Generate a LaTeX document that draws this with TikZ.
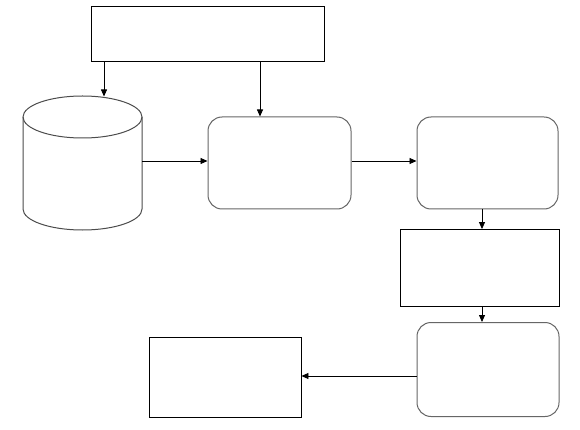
\documentclass[tikz,border=0pt]{standalone}
\usetikzlibrary{arrows.meta,calc}
\begin{document}
\begin{tikzpicture}[x=1pt,y=-1pt,
  box/.style={draw=black,line width=0.9pt,fill=white,inner sep=0pt},
  rbox/.style={draw=black!60,line width=1pt,rounded corners=14pt,fill=white,inner sep=0pt},
  conn/.style={draw=black,line width=0.8pt,-{Triangle[length=7pt,width=6pt]}}]
\useasboundingbox (0,0) rectangle (580,430);
\fill[white] (0,0) rectangle (580,430);
% nodes
\node[box,minimum width=233pt,minimum height=54.5pt] (top) at (208,34) {};
\node[rbox,minimum width=143pt,minimum height=92pt] (r1) at (279.5,163) {};
\node[rbox,minimum width=141pt,minimum height=92pt] (r2) at (487.5,163) {};
\node[box,minimum width=159pt,minimum height=77pt] (r3) at (479.5,268) {};
\node[rbox,minimum width=142pt,minimum height=94pt] (r4) at (488,369.5) {};
\node[box,minimum width=152pt,minimum height=80pt] (r5) at (225,377) {};
% cylinder
\draw[draw=black!70,line width=1pt,fill=white]
  (23,117) -- (23,209) arc[start angle=180,end angle=0,x radius=59.5,y radius=21]
  -- (142,117) arc[start angle=0,end angle=-180,x radius=59.5,y radius=21] -- cycle;
\draw[draw=black!70,line width=1pt] (23,117) arc[start angle=180,end angle=0,x radius=59.5,y radius=21];
\node[inner sep=0pt,minimum width=119pt,minimum height=134pt] (cyl) at (82.5,163) {};
\coordinate (c1) at (104,96.5);
\coordinate (c2) at (260,0);
\coordinate (c3) at (482,0);
\coordinate (c4) at (0,161);
\coordinate (c5) at (0,376);
% connectors
\draw[conn] (top.south -| c1) -- (c1);
\draw[conn] (top.south -| c2) -- (r1.north -| c2);
\draw[conn] (cyl.east |- c4) -- (r1.west |- c4);
\draw[conn] (r1.east |- c4) -- (r2.west |- c4);
\draw[conn] (r2.south -| c3) -- (r3.north -| c3);
\draw[conn] (r3.south -| c3) -- (r4.north -| c3);
\draw[conn] (r4.west |- c5) -- (r5.east |- c5);
\end{tikzpicture}
\end{document}
